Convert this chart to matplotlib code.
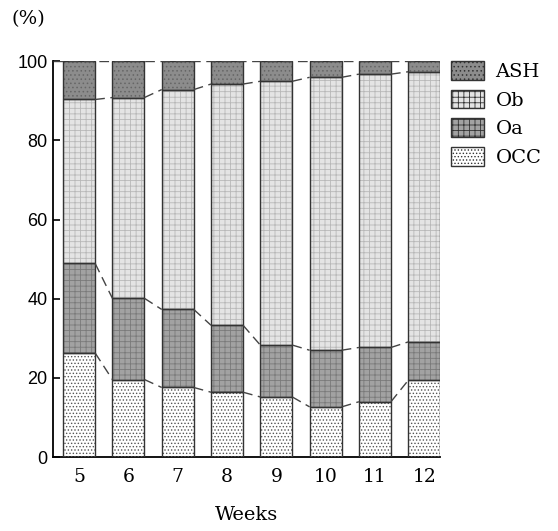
import numpy as np
import matplotlib
matplotlib.use('Agg')
import matplotlib.pyplot as plt
from matplotlib.patches import Patch

# data (% of total, per week)
weeks = [5, 6, 7, 8, 9, 10, 11, 12]
occ = [26.3, 19.6, 17.6, 16.4, 15.2, 12.7, 14.0, 19.4]
oa = [22.6, 20.5, 19.7, 16.9, 13.1, 14.3, 13.7, 9.7]
ob = [41.4, 50.7, 55.5, 60.9, 66.6, 68.9, 69.0, 68.2]
ash = [9.7, 9.2, 7.2, 5.8, 5.1, 4.1, 3.3, 2.7]
labels = ['ASH', 'Ob', 'Oa', 'OCC']

plt.rcParams['hatch.linewidth'] = 0.6
serif = 'DejaVu Serif'

fig = plt.figure(figsize=(5.58, 5.31), dpi=100)
ax = fig.add_axes([0.095, 0.139, 0.694, 0.746])

x = np.array(weeks)
w = 0.65
layers = [occ, oa, ob, ash]
face = ['white', '#a2a2a2', '#e4e4e4', '#8c8c8c']
hcol = ['#555555', '#7a7a7a', '#b8b8b8', '#666666']
hatch = ['.....', '+++', '+++', '....']

bottom = np.zeros(len(weeks))
tops = []
for vals, fc, hc, h in zip(layers, face, hcol, hatch):
    vals = np.array(vals)
    ax.bar(x, vals, w, bottom=bottom, color=fc, edgecolor='none', zorder=2)
    ax.bar(x, vals, w, bottom=bottom, color='none', edgecolor=hc, hatch=h,
           linewidth=0, zorder=3)
    ax.bar(x, vals, w, bottom=bottom, color='none', edgecolor='#333333',
           linewidth=1.0, zorder=4)
    bottom = bottom + vals
    tops.append(bottom.copy())

# dashed connectors between bars
for cum in tops[:3]:
    for i in range(len(weeks) - 1):
        ax.plot([x[i] + w / 2, x[i + 1] - w / 2], [cum[i], cum[i + 1]],
                ls=(0, (7, 4)), color='#444444', lw=1.0, zorder=5)
ax.plot([4.47, 12 + w / 2], [100, 100], ls=(0, (7, 4)), color='#444444',
        lw=1.0, zorder=5)

ax.set_xlim(4.47, 12 + w / 2)
ax.set_ylim(0, 100)
ax.spines['top'].set_visible(False)
ax.spines['right'].set_visible(False)
ax.spines['left'].set_linewidth(1.3)
ax.spines['bottom'].set_linewidth(1.3)
ax.set_xticks(weeks)
ax.set_xticklabels([str(v) for v in weeks], fontsize=13.5, family=serif)
ax.set_yticks([0, 20, 40, 60, 80, 100])
ax.set_yticklabels(['0', '20', '40', '60', '80', '100'], fontsize=13,
                   family='Liberation Sans')
ax.tick_params(axis='x', length=0, pad=8)
ax.tick_params(axis='y', direction='in', length=5, width=1.2, pad=4)
ax.set_xlabel('Weeks', fontsize=14, family=serif, labelpad=14)

fig.text(0.02, 0.965, '(%)', fontsize=14, family=serif, va='center')

plt.rcParams['hatch.color'] = '#666666'
handles = [Patch(facecolor=face[i], edgecolor='#333333', hatch=hatch[i])
           for i in [3, 2, 1, 0]]
fig.legend(handles, labels, loc='upper left', bbox_to_anchor=(0.808, 0.885),
           frameon=False, prop={'family': serif, 'size': 14},
           handlelength=1.7, handleheight=1.1, labelspacing=0.45,
           handletextpad=0.6, borderpad=0, borderaxespad=0)

fig.savefig('out.png', dpi=100)
